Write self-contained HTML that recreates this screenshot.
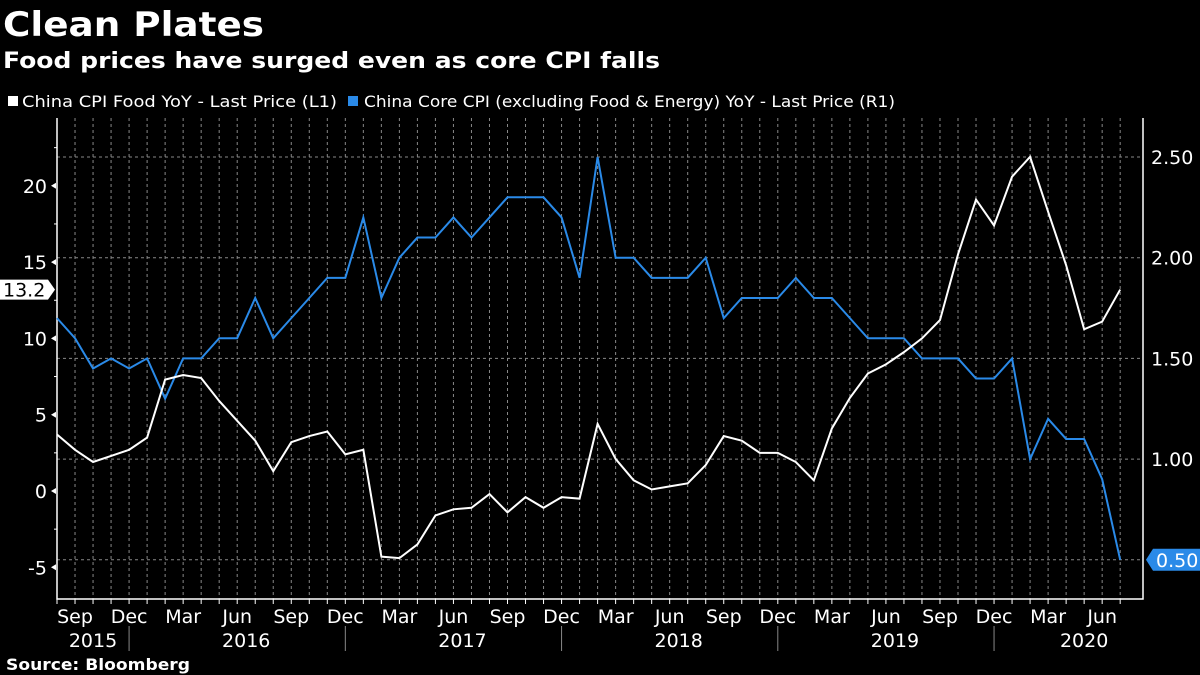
<!DOCTYPE html>
<html><head><meta charset="utf-8">
<style>
html,body{margin:0;padding:0;background:#000;}
body{width:1200px;height:675px;overflow:hidden;font-family:"DejaVu Sans","Liberation Sans",sans-serif;color:#fff;position:relative;}
</style></head>
<body>
<svg id="chart" width="1200" height="675" style="position:absolute;left:0;top:0;font-family:'DejaVu Sans','Liberation Sans',sans-serif;">
<text x="3" y="36" fill="#fff" font-size="34" font-weight="bold" textLength="261" lengthAdjust="spacingAndGlyphs">Clean Plates</text>
<text x="3" y="68" fill="#fff" font-size="22" font-weight="bold" textLength="657" lengthAdjust="spacingAndGlyphs">Food prices have surged even as core CPI falls</text>
<rect x="8" y="96" width="10" height="10" fill="#fff"/>
<text x="22" y="107" fill="#fff" font-size="16" textLength="315" lengthAdjust="spacingAndGlyphs">China CPI Food YoY - Last Price (L1)</text>
<rect x="348" y="96" width="10" height="10" fill="#2a8ae8"/>
<text x="364" y="107" fill="#fff" font-size="16" textLength="531" lengthAdjust="spacingAndGlyphs">China Core CPI (excluding Food &amp; Energy) YoY - Last Price (R1)</text>
<text x="6" y="670" fill="#fff" font-size="16" font-weight="bold" textLength="184" lengthAdjust="spacingAndGlyphs">Source: Bloomberg</text>
</svg>
<script>
const months = ["Aug","Sep","Oct","Nov","Dec","Jan","Feb","Mar","Apr","May","Jun","Jul"];
const foodValues = [3.7,2.7,1.9,2.3,2.7,
 3.5,7.3,7.6,7.4,5.9,4.6,3.3,1.3,3.2,3.6,3.9,2.4,
 2.7,-4.3,-4.4,-3.5,-1.6,-1.2,-1.1,-0.2,-1.4,-0.4,-1.1,-0.4,
 -0.5,4.4,2.1,0.7,0.1,0.3,0.5,1.7,3.6,3.3,2.5,2.5,
 1.9,0.7,4.1,6.1,7.7,8.3,9.1,10.0,11.2,15.5,19.1,17.4,
 20.6,21.9,18.3,14.8,10.6,11.1,13.2];
const coreValues = [1.7,1.6,1.45,1.5,1.45,
 1.5,1.3,1.5,1.5,1.6,1.6,1.8,1.6,1.7,1.8,1.9,1.9,
 2.2,1.8,2.0,2.1,2.1,2.2,2.1,2.2,2.3,2.3,2.3,2.2,
 1.9,2.5,2.0,2.0,1.9,1.9,1.9,2.0,1.7,1.8,1.8,1.8,
 1.9,1.8,1.8,1.7,1.6,1.6,1.6,1.5,1.5,1.5,1.4,1.4,
 1.5,1.0,1.2,1.1,1.1,0.9,0.5];
const leftTicks = [-5,0,5,10,15,20];
const rightTicks = [0.5,1.0,1.5,2.0,2.5];
const years = ["2015","2016","2017","2018","2019","2020"];

const NS="http://www.w3.org/2000/svg";
const svg=document.getElementById('chart');
const X0=57,DX=18.02,PL=57,PR=1143,PT=118,PB=599;
const xs=i=>X0+i*DX;
const yL=v=>491-v*15.26;
const yR=v=>157+(2.5-v)*201.4;
function el(tag,attrs,parent){const e=document.createElementNS(NS,tag);for(const k in attrs)e.setAttribute(k,attrs[k]);(parent||svg).appendChild(e);return e;}
const n=foodValues.length;
for(let i=0;i<n;i++){
 const g=el('line',{x1:xs(i),x2:xs(i),y1:PT,y2:PB,stroke:'#888','stroke-width':1,'stroke-dasharray':'3,3'});
 
 
 const t=el('line',{x1:xs(i),x2:xs(i),y1:PB,y2:PB+5,stroke:'#fff','stroke-width':1});
 
 
}
rightTicks.forEach(v=>{
 const g=el('line',{x1:PL,x2:PR,y1:yR(v),y2:yR(v),stroke:'#888','stroke-width':1,'stroke-dasharray':'3,3'});
 
 
 const t=el('text',{x:PR+8,y:yR(v)+7,fill:'#fff','font-size':19});
 t.textContent=v.toFixed(2);
 
 
});
leftTicks.forEach(v=>{
 const t=el('text',{x:PL-10,y:yL(v)+7,fill:'#fff','font-size':19,'text-anchor':'end'});
 t.textContent=v;
 
 
 const m=el('polygon',{points:`${PL-6},${yL(v)} ${PL-1},${yL(v)-3} ${PL-1},${yL(v)+3}`,fill:'#fff'});
 
 
 const mm=el('line',{x1:PL-3,x2:PL,y1:yL(v+2.5),y2:yL(v+2.5),stroke:'#fff'});
 
 
});
const ax=el('polyline',{points:`${PL},${PT} ${PL},${PB} ${PR},${PB} ${PR},${PT}`,fill:'none',stroke:'#fff','stroke-width':1.5});


for(let i=0;i<n;i++){
 const m=months[i%12];
 if(m==="Sep"||m==="Dec"||m==="Mar"||m==="Jun"){
  const t=el('text',{x:xs(i),y:623,fill:'#fff','font-size':19,'text-anchor':'middle'});
  t.textContent=m;
  
  
 }
}
years.forEach((y,k)=>{
 const startIdx=k===0?0:5+12*(k-1);
 const endIdx=Math.min(n-1,4+12*k);
 const cx=k===0?93:(k===years.length-1?(xs(startIdx)+xs(n-1))/2+18:(xs(startIdx)+xs(endIdx))/2);
 const t=el('text',{x:cx,y:647,fill:'#fff','font-size':19,'text-anchor':'middle'});
 t.textContent=y;
 
 
 if(k>0){
  const s=el('line',{x1:xs(startIdx-1),x2:xs(startIdx-1),y1:626,y2:651,stroke:'#888','stroke-width':1});
  
  
 }
});
const core=el('polyline',{points:coreValues.map((v,i)=>xs(i)+','+yR(v)).join(' '),fill:'none',stroke:'#2a8ae8','stroke-width':2});


const food=el('polyline',{points:foodValues.map((v,i)=>xs(i)+','+yL(v)).join(' '),fill:'none',stroke:'#fff','stroke-width':2});


const lf=foodValues[n-1], ly=yL(lf);
const lb=el('polygon',{points:`0,${ly-10} 48,${ly-10} 55,${ly} 48,${ly+10} 0,${ly+10}`,fill:'#fff'});


const lt=el('text',{x:3,y:ly+7,fill:'#000','font-size':19});
lt.textContent=lf.toFixed(1);


const lc=coreValues[n-1], ry=yR(lc);
const rb=el('polygon',{points:`${PR+3},${ry} ${PR+10},${ry-11} 1200,${ry-11} 1200,${ry+11} ${PR+10},${ry+11}`,fill:'#2a8ae8'});


const rt=el('text',{x:PR+13,y:ry+7,fill:'#fff','font-size':19});
rt.textContent=lc.toFixed(2);


</script>
</body></html>
